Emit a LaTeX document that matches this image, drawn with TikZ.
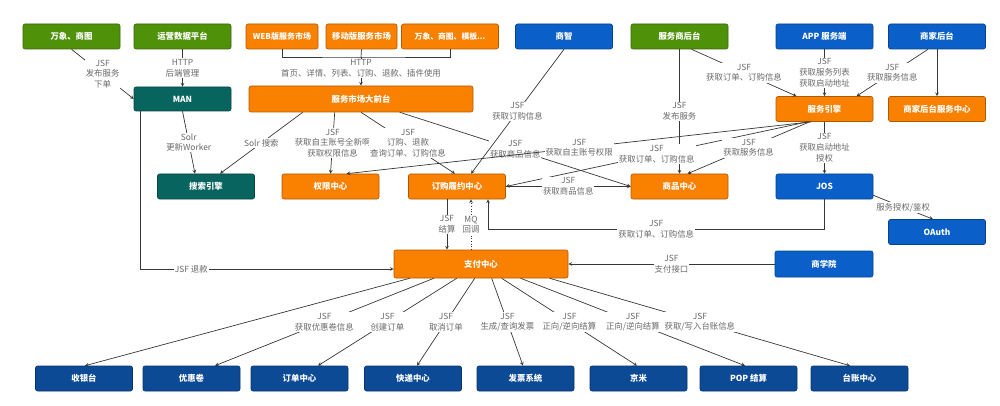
\documentclass[tikz,border=0pt]{standalone}
\usepackage{fontspec}
\setmainfont{Noto Sans CJK SC}
\usepackage{xcolor}
\usepackage{tikz}
\usetikzlibrary{positioning, calc}

\definecolor{jgreen}{RGB}{80,145,10}
\definecolor{jorange}{RGB}{250,128,0}
\definecolor{jblue}{RGB}{10,95,200}
\definecolor{jnavy}{RGB}{12,74,150}
\definecolor{jteal}{RGB}{8,100,95}
\definecolor{jgray}{RGB}{105,105,105}
\definecolor{jline}{RGB}{55,55,55}

\begin{document}
\begin{tikzpicture}[%
    x=1pt, y=-1pt,      % pixel-like grid, y grows downwards
    >=stealth,          % arrow tips
    sys/.style={rectangle, rounded corners=2pt, minimum width=97pt,
        minimum height=25pt, inner sep=1pt, text=white, line width=0.6pt,
        font=\fontsize{8.4}{10}\selectfont\bfseries},
    sysgreen/.style={sys, fill=jgreen, draw=jgreen!70!black},
    sysorange/.style={sys, fill=jorange, draw=jorange!70!black},
    sysblue/.style={sys, fill=jblue, draw=jblue!70!black},
    sysnavy/.style={sys, fill=jnavy, draw=jnavy!70!black},
    systeal/.style={sys, fill=jteal, draw=jteal!70!black},
    link/.style={color=jline, line width=0.7pt},
    lbl/.style={fill=white, text=jgray, align=center, inner sep=1pt,
        font=\fontsize{8.4}{10.6}\selectfont}
]
    \useasboundingbox (0,0) rectangle (1000,406);

    % ==========================================
    % 1. Top row - callers
    % ==========================================
    \node[sysgreen] (wx) at (71.5,36.5) {万象、商图};
    \node[sysgreen] (yy) at (182.5,36.5) {运营数据平台};
    \node[sysorange, minimum width=72pt, font=\fontsize{8}{10}\selectfont\bfseries] (web) at (282,36.5) {WEB版服务市场};
    \node[sysorange, minimum width=71pt] (mob) at (361.5,36.5) {移动版服务市场};
    \node[sysorange, font=\fontsize{7.8}{10}\selectfont\bfseries] (wxm) at (450,36.5) {万象、商图、模板...};
    \node[sysblue] (sz) at (564,36.5) {商智};
    \node[sysgreen] (fws) at (679.5,36.5) {服务商后台};
    \node[sysblue] (app) at (824.5,36.5) {APP 服务端};
    \node[sysblue] (sjht) at (937,36.5) {商家后台};

    % ==========================================
    % 2. Second row
    % ==========================================
    \node[systeal, minimum height=24pt] (man) at (182.5,99) {MAN};
    \node[sysorange, minimum width=224pt, minimum height=26pt] (front) at (361,99) {服务市场大前台};
    \node[sysorange] (engine) at (824.5,109) {服务引擎};
    \node[sysorange] (sjsc) at (937,109) {商家后台服务中心};

    % ==========================================
    % 3. Centres
    % ==========================================
    \node[systeal] (search) at (206,186.5) {搜索引擎};
    \node[sysorange] (perm) at (330.5,186.5) {权限中心};
    \node[sysorange] (order) at (457,186.5) {订购履约中心};
    \node[sysorange] (goods) at (679.5,186.5) {商品中心};
    \node[sysblue] (jos) at (824.5,186.5) {JOS};
    \node[sysblue] (oauth) at (937,232) {OAuth};

    \node[sysorange, minimum width=174pt, minimum height=28pt] (pay) at (481,264) {支付中心};
    \node[sysblue, minimum width=98pt, minimum height=26pt] (sxy) at (824,264) {商学院};

    % ==========================================
    % 4. Bottom row - payment partners
    % ==========================================
    \node[sysnavy] (cashier) at (84,378.5) {收银台};
    \node[sysnavy] (coupon) at (191.5,378.5) {优惠卷};
    \node[sysnavy] (ordc) at (299.5,378.5) {订单中心};
    \node[sysnavy] (express) at (413,378.5) {快递中心};
    \node[sysnavy] (invoice) at (525.5,378.5) {发票系统};
    \node[sysnavy] (jingmi) at (638.5,378.5) {京米};
    \node[sysnavy] (pop) at (748.5,378.5) {POP 结算};
    \node[sysnavy] (ledger) at (859.5,378.5) {台账中心};

    \coordinate (hub) at (361,57);
    \coordinate (jbend) at (488,229);

    % ==========================================
    % 5. Connections
    % ==========================================
    % --- markets join into one line ---
    \draw[link] (web.south) |- (hub) -| (wxm.south);
    \draw[link] (mob.south) -- (hub);

    \path[link, ->]
        (wx.south) edge node[lbl] {JSF\\发布服务\\下单} (man.west)
        (yy.south) edge node[lbl] {HTTP\\后端管理} (man.north)
        (hub) edge node[lbl, pos=0.4] {HTTP\\首页、详情、列表、订购、退款、插件使用} (front.north)
        % --- MAN and front desk ---
        (man.south) edge node[lbl] {Solr\\更新Worker} ([xshift=-11pt]search.north)
        ([xshift=54pt]front.south west) edge node[lbl] {Solr 搜索} ([xshift=14pt]search.north)
        ([xshift=86pt]front.south west) edge node[lbl] {JSF\\获取自主账号全新啊\\获取权限信息} (perm.north)
        (front.south) edge node[lbl] {JSF\\订购、退款\\查询订单、订购信息} ([xshift=-2pt]order.north)
        ([xshift=151pt]front.south west) edge node[lbl] {JSF\\获取商品信息} (goods.west)
        % --- from the top row ---
        (sz.south) edge node[lbl] {JSF\\获取订购信息} ([xshift=14pt]order.north)
        (fws.south) edge node[lbl] {JSF\\发布服务} (goods.north)
        ([xshift=12pt]fws.south) edge node[lbl] {JSF\\获取订单、订购信息} ([xshift=-28pt]engine.north)
        (app.south) edge node[lbl] {JSF\\获取服务列表\\获取启动地址} (engine.north)
        ([xshift=-9pt]sjht.south) edge node[lbl] {JSF\\获取服务信息} ([xshift=32pt]engine.north)
        (sjht.south) edge (sjsc.north)
        % --- service engine ---
        ([xshift=36pt]engine.south west) edge node[lbl] {JSF\\获取自主账号权限} ([xshift=16pt]perm.north)
        ([xshift=32pt]engine.south west) edge node[lbl] {JSF\\获取订单、订购信息} (order.east)
        ([xshift=34pt]engine.south west) edge node[lbl] {JSF\\获取服务信息} ([xshift=8pt]goods.north)
        (engine.south) edge node[lbl] {JSF\\获取启动地址\\授权} (jos.north)
        ([yshift=4pt]jos.south east) edge node[lbl] {服务授权/鉴权} ([xshift=-4pt]oauth.north)
        (order.east) edge node[lbl] {JSF\\获取商品信息} (goods.west)
        % --- payment ---
        ([xshift=-10pt]order.south) edge node[lbl] {JSF\\结算} ([xshift=-34pt]pay.north)
        ([xshift=-10pt]pay.north) edge[dotted] node[lbl] {MQ\\回调} ([xshift=14pt]order.south)
        (sxy.west) edge node[lbl] {JSF\\支付接口} (pay.east);

    \draw[link, ->] (jos.south) |- node[lbl, pos=0.75] {JSF\\获取订单、订购信息} (jbend) -- ([xshift=31pt]order.south);
    \draw[link, ->] ([xshift=7pt]man.south west) |- node[lbl, pos=0.6] {JSF 退款} ([yshift=-5pt]pay.west);

    % --- payment centre fans out ---
    \path[link, ->]
        ([xshift=16pt]pay.south west) edge ([xshift=1pt]cashier.north)
        ([xshift=40pt]pay.south west) edge node[lbl] {JSF\\获取优惠卷信息} ([xshift=23.5pt]coupon.north)
        ([xshift=63pt]pay.south west) edge node[lbl] {JSF\\创建订单} ([xshift=18.5pt]ordc.north)
        ([xshift=81pt]pay.south west) edge node[lbl] {JSF\\取消订单} ([xshift=4pt]express.north)
        ([xshift=98pt]pay.south west) edge node[lbl] {JSF\\生成/查询发票} ([xshift=-2.5pt]invoice.north)
        ([xshift=108pt]pay.south west) edge node[lbl] {JSF\\正向/逆向结算} ([xshift=-1.5pt]jingmi.north)
        ([xshift=127pt]pay.south west) edge node[lbl] {JSF\\正向/逆向结算} ([xshift=-3.5pt]pop.north)
        ([xshift=156pt]pay.south west) edge node[lbl] {JSF\\获取/写入台账信息} ([xshift=-9.5pt]ledger.north);

\end{tikzpicture}
\end{document}
